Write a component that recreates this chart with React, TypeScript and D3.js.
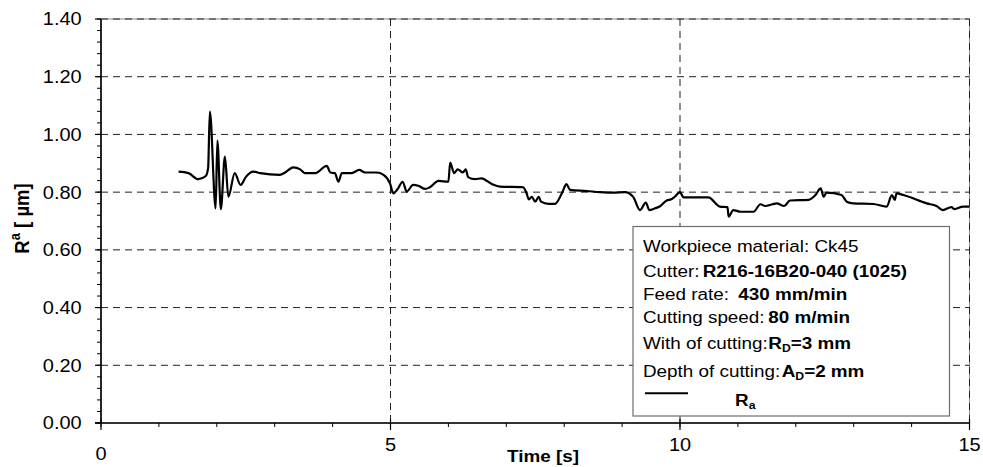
import React from "react";
import * as d3 from "d3";

const TIME = [1.34, 1.51, 1.68, 1.81, 1.85, 1.88, 1.98, 2.01, 2.07, 2.14, 2.2, 2.31, 2.41, 2.5, 2.63, 2.75, 3.09, 3.18, 3.32, 3.44, 3.52, 3.7, 3.9, 3.96, 4.04, 4.1, 4.16, 4.33, 4.46, 4.56, 4.76, 4.88, 4.99, 5.05, 5.12, 5.21, 5.28, 5.39, 5.48, 5.6, 5.68, 5.83, 6.0, 6.03, 6.1, 6.16, 6.25, 6.3, 6.34, 6.46, 6.57, 6.75, 6.89, 7.29, 7.35, 7.39, 7.44, 7.5, 7.56, 7.6, 7.73, 7.84, 7.96, 8.04, 8.1, 8.39, 8.62, 8.85, 9.05, 9.19, 9.31, 9.41, 9.47, 9.57, 9.65, 9.77, 9.85, 9.91, 10.0, 10.06, 10.49, 10.69, 10.82, 10.84, 10.92, 11.04, 11.27, 11.39, 11.47, 11.6, 11.67, 11.8, 11.9, 12.22, 12.34, 12.43, 12.48, 12.53, 12.79, 12.88, 12.99, 13.34, 13.57, 13.66, 13.71, 13.74, 13.86, 14.26, 14.43, 14.54, 14.69, 14.74, 14.89, 15.0];
const RA = [0.871, 0.866, 0.845, 0.856, 0.883, 1.079, 0.744, 0.979, 0.741, 0.923, 0.784, 0.866, 0.825, 0.852, 0.871, 0.866, 0.86, 0.868, 0.886, 0.879, 0.866, 0.866, 0.891, 0.868, 0.866, 0.836, 0.866, 0.866, 0.877, 0.868, 0.868, 0.86, 0.831, 0.796, 0.81, 0.836, 0.802, 0.825, 0.822, 0.811, 0.817, 0.839, 0.836, 0.902, 0.866, 0.879, 0.868, 0.879, 0.852, 0.845, 0.848, 0.828, 0.819, 0.817, 0.796, 0.775, 0.784, 0.767, 0.784, 0.767, 0.759, 0.759, 0.796, 0.828, 0.808, 0.804, 0.8, 0.798, 0.8, 0.784, 0.738, 0.764, 0.738, 0.744, 0.75, 0.771, 0.775, 0.784, 0.8, 0.782, 0.782, 0.75, 0.748, 0.715, 0.738, 0.732, 0.732, 0.758, 0.752, 0.758, 0.761, 0.752, 0.771, 0.773, 0.79, 0.813, 0.784, 0.798, 0.79, 0.767, 0.761, 0.759, 0.75, 0.79, 0.773, 0.796, 0.79, 0.761, 0.752, 0.738, 0.748, 0.741, 0.75, 0.75];

const Y_TICKS = [0, 0.2, 0.4, 0.6, 0.8, 1.0, 1.2, 1.4];
const Y_MINOR = d3.range(0, 1.4001, 0.04);
const X_TICKS = [0, 5, 10, 15];
const X_MINOR = d3.range(0, 15.001, 1);

const FONT = "'Liberation Sans', Arial, Helvetica, sans-serif";
const SX = 1.11;

const L = 101, R = 969.5, T = 19, B = 423;

function Txt({ x, y, size = 17, bold = false, anchor = "start", children, rotate = 0 }: any) {
  return (
    <text
      transform={`translate(${x},${y}) scale(${SX},1)${rotate ? ` rotate(${rotate})` : ""}`}
      fontFamily={FONT}
      fontSize={size}
      fontWeight={bold ? "bold" : "normal"}
      textAnchor={anchor}
      fill="#000"
    >
      {children}
    </text>
  );
}

export default function App() {
  const x = d3.scaleLinear().domain([0, 15]).range([L, R]);
  const y = d3.scaleLinear().domain([0, 1.4]).range([B, T]);
  const data = TIME.map((t, i) => [t, RA[i]] as [number, number]);
  const line = d3
    .line<[number, number]>()
    .x((d) => x(d[0]))
    .y((d) => y(d[1]))
    .curve(d3.curveMonotoneX);

  const legendX = 643;
  return (
    <svg width={983} height={467} style={{ position: "absolute", left: 0, top: 0, background: "#fff" }}>
      <rect x={0} y={0} width={983} height={467} fill="#fff" />
      {/* plot frame */}
      <rect x={L} y={T} width={R - L} height={B - T} fill="none" stroke="#8a8a8a" strokeWidth={1} />
      {/* grid */}
      {Y_TICKS.filter((v) => v > 0).map((v) => (
        <line key={"gy" + v} x1={L} x2={R} y1={y(v)} y2={y(v)} stroke="#222" strokeWidth={1} strokeDasharray="7,5" />
      ))}
      {X_TICKS.filter((v) => v > 0).map((v) => (
        <line key={"gx" + v} x1={x(v)} x2={x(v)} y1={T} y2={B} stroke="#222" strokeWidth={1} strokeDasharray="7,5" />
      ))}
      {/* series */}
      <path d={line(data) || ""} fill="none" stroke="#000" strokeWidth={2.2} strokeLinejoin="round" />
      {/* legend box */}
      <rect x={633} y={226.5} width={316.5} height={189.5} fill="#fff" stroke="#6e6e6e" strokeWidth={1.2} />
      <Txt x={legendX} y={252.3}>Workpiece material: Ck45</Txt>
      <Txt x={legendX} y={276.7}>Cutter:</Txt>
      <Txt x={702.7} y={276.7} bold>R216-16B20-040 (1025)</Txt>
      <Txt x={legendX} y={300}>Feed rate:</Txt>
      <Txt x={738.3} y={300} bold>430 mm/min</Txt>
      <Txt x={legendX} y={323.3}>Cutting speed:</Txt>
      <Txt x={768.3} y={323.3} bold>80 m/min</Txt>
      <Txt x={legendX} y={349.3}>With of cutting:</Txt>
      <Txt x={768.3} y={349.3} bold>
        R<tspan fontSize={11} dy={3}>D</tspan>
        <tspan dy={-3}>=3 mm</tspan>
      </Txt>
      <Txt x={legendX} y={376.7}>Depth of cutting:</Txt>
      <Txt x={781.7} y={376.7} bold>
        A<tspan fontSize={11} dy={3}>D</tspan>
        <tspan dy={-3}>=2 mm</tspan>
      </Txt>
      <line x1={645} x2={688} y1={393.3} y2={393.3} stroke="#000" strokeWidth={2} />
      <Txt x={735} y={406} bold>
        R<tspan fontSize={11} dy={3}>a</tspan>
      </Txt>
      {/* axes */}
      <line x1={L} x2={L} y1={T} y2={B} stroke="#000" strokeWidth={1.6} />
      <line x1={L - 6} x2={R} y1={B} y2={B} stroke="#000" strokeWidth={1.6} />
      {Y_MINOR.map((v) => (
        <line key={"ym" + v} x1={L - 4} x2={L} y1={y(v)} y2={y(v)} stroke="#000" strokeWidth={1} />
      ))}
      {Y_TICKS.map((v) => (
        <line key={"yt" + v} x1={L - 6} x2={L} y1={y(v)} y2={y(v)} stroke="#000" strokeWidth={1.2} />
      ))}
      {X_MINOR.map((v) => (
        <line key={"xm" + v} x1={x(v)} x2={x(v)} y1={B} y2={B + 4} stroke="#000" strokeWidth={1} />
      ))}
      {X_TICKS.map((v) => (
        <line key={"xt" + v} x1={x(v)} x2={x(v)} y1={B - 4} y2={B + 7} stroke="#000" strokeWidth={1.2} />
      ))}
      {Y_TICKS.map((v) => (
        <Txt key={"yl" + v} x={81.7} y={y(v) + 6.4} size={18} anchor="end">
          {v.toFixed(2)}
        </Txt>
      ))}
      {X_TICKS.map((v) => (
        <Txt key={"xl" + v} x={x(v)} y={v === 0 ? 460 : 451} size={18} anchor="middle">
          {String(v)}
        </Txt>
      ))}
      <Txt x={543} y={461.7} bold anchor="middle">Time [s]</Txt>
      <Txt x={28.5} y={218.5} size={18.5} bold anchor="middle" rotate={-90}>
        R<tspan fontSize={13} dy={-8}>a</tspan>
        <tspan dy={8}>{"\u00a0[ \u00b5m]"}</tspan>
      </Txt>
    </svg>
  );
}
